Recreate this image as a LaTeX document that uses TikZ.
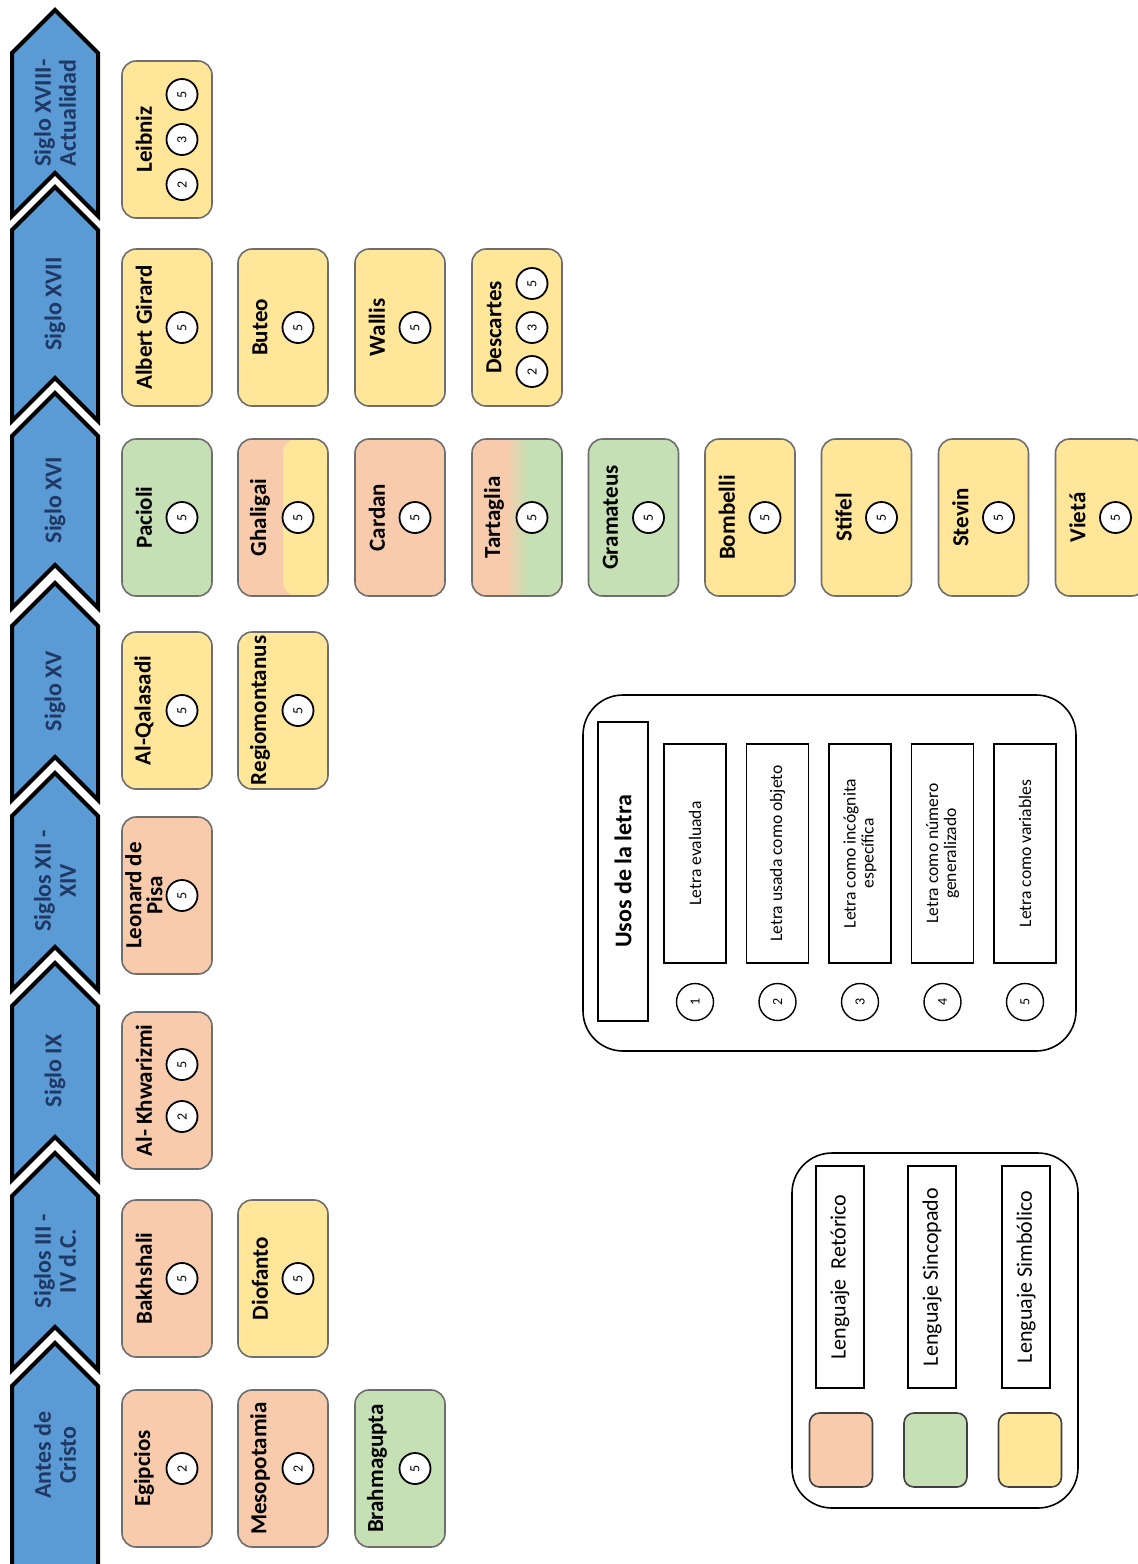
\documentclass[tikz,border=0pt]{standalone}
\usepackage{fontspec}
\setmainfont{Carlito}
\usetikzlibrary{positioning,calc}

\definecolor{chevblue}{HTML}{5B9BD5}
\definecolor{chevtext}{HTML}{1F3864}
\definecolor{retorico}{HTML}{F8CBAD}
\definecolor{sincopado}{HTML}{C5E0B4}
\definecolor{simbolico}{HTML}{FFE699}
\definecolor{boxline}{HTML}{6E6E6E}

\pgfdeclarehorizontalshading{tartshade}{100bp}{color(0bp)=(retorico); color(44bp)=(retorico); color(56bp)=(sincopado); color(100bp)=(sincopado)}

\begin{document}
\begin{tikzpicture}[x=0.5pt, y=-0.5pt,
    chev/.style={fill=chevblue, draw=black, line width=2pt},
    periodo/.style={rotate=90, inner sep=0pt, align=center, text=chevtext,
                    font=\bfseries\fontsize{12}{12.5}\selectfont},
    autor/.style={draw=boxline, line width=0.8pt, rounded corners=7pt,
                  minimum width=45pt, minimum height=78.5pt, inner sep=0pt},
    nombre/.style={rotate=90, inner sep=0pt, align=center,
                   font=\bfseries\fontsize{11.5}{10.5}\selectfont},
    num/.style={circle, draw, line width=0.9pt, fill=white, minimum size=15.5pt,
                inner sep=0pt, rotate=90, font=\fontsize{7}{7}\selectfont},
    ret/.style={fill=retorico},
    sin/.style={fill=sincopado},
    sim/.style={fill=simbolico},
    ghal/.style={fill=retorico, path picture={\fill[simbolico] (path picture bounding box.north)
                 rectangle (path picture bounding box.south east);}},
    tart/.style={shade, shading=tartshade},
    marco/.style={draw, line width=0.8pt, rounded corners=20pt, inner sep=0pt},
    uso/.style={draw, line width=0.8pt, rotate=90, inner sep=0pt, align=center},
    numl/.style={circle, draw, line width=0.7pt, minimum size=18.5pt, inner sep=0pt,
                 rotate=90, font=\fontsize{7}{7}\selectfont},
    muestra/.style={draw=black!75, line width=0.8pt, rounded corners=5pt,
                    minimum width=31.5pt, minimum height=37pt}]

  \useasboundingbox (0,0) rectangle (1138,1564);
  \clip (0,0) rectangle (1138,1564);
  \fill[white] (0,0) rectangle (1138,1564);

  % Periods (chevrons)
  \foreach \t/\b/\ly/\lab in {10/173/113/{Siglo XVIII-\\Actualidad}, 187/378/304/Siglo XVII,
      393/565/500/Siglo XVI, 583/757/691/Siglo XV, 773/947/881/{Siglos XII -\\XIV},
      963/1137/1071/Siglo IX, 1153/1327/1261/{Siglos III -\\IV d.C.}, 1343/1640/1455/{Antes de\\Cristo}}
  {
    \draw[chev] (12,\t+43) -- (55,\t) -- (98,\t+43) -- (98,\b+43) -- (55,\b) -- (12,\b+43) -- cycle;
    \node[periodo] (periodo-\t) at (55,\ly) {\lab};
  }

  % Authors
  \foreach \id/\x/\y/\c/\nom/\circs in {
      leibniz/167/139.5/sim/Leibniz/{2/45,3/0,5/-45},
      girard/167/327.5/sim/Albert Girard/{5/0},
      buteo/283/327.5/sim/Buteo/{5/0},
      wallis/400/327.5/sim/Wallis/{5/0},
      descartes/517/327.5/sim/Descartes/{2/44,3/0,5/-44},
      pacioli/167/517.5/sin/Pacioli/{5/0},
      ghaligai/283/517.5/ghal/Ghaligai/{5/0},
      cardan/400/517.5/ret/Cardan/{5/0},
      tartaglia/517/517.5/tart/Tartaglia/{5/0},
      gramateus/633.5/517.5/sin/Gramateus/{5/0},
      bombelli/750/517.5/sim/Bombelli/{5/0},
      stifel/866.5/517.5/sim/Stifel/{5/0},
      stevin/983.5/517.5/sim/Stevin/{5/0},
      vieta/1100.5/517.5/sim/Vietá/{5/0},
      qalasadi/167/710.5/sim/Al-Qalasadi/{5/0},
      regio/283/710.5/sim/Regiomontanus/{5/0},
      leonardo/167/895.5/ret/{Leonard de\\Pisa}/{5/0},
      khwarizmi/167/1090.5/ret/Al- Khwarizmi/{2/26,5/-26},
      bakhshali/167/1278.5/ret/Bakhshali/{5/0},
      diofanto/283/1278.5/sim/Diofanto/{5/0},
      egipcios/167/1468.5/ret/Egipcios/{2/0},
      mesopotamia/283/1468.5/ret/Mesopotamia/{2/0},
      brahmagupta/400/1468.5/sin/Brahmagupta/{5/0}}
  {
    \node[autor, \c] (\id) at (\x,\y) {};
    \node[nombre] (\id-nom) at ($(\id.center)+(-23,0)$) {\nom};
    \foreach \n/\dy in \circs
      \node[num] (\id-\n) at ($(\id.center)+(15,\dy)$) {\n};
  }

  % Legend: uses of the letter
  \node[marco, minimum width=246.5pt, minimum height=178pt] (usos) at (829.5,873) {};
  \node[uso, minimum width=149.5pt, minimum height=25pt,
        font=\bfseries\fontsize{12}{12}\selectfont] (usos-tit) at (623,871.5) {Usos de la letra};
  \foreach \i/\x/\txt in {1/695/Letra evaluada, 2/777.5/Letra usada como objeto,
      3/860/{Letra como incógnita\\específica}, 4/942.5/{Letra como número\\generalizado},
      5/1025/Letra como variables}
  {
    \node[uso, minimum width=109.5pt, minimum height=31pt,
          font=\fontsize{8.8}{9}\selectfont] (uso-\i) at (\x,853.5) {\txt};
    \node[numl] (usonum-\i) at (\x,1002) {\i};
  }

  % Legend: language types
  \node[marco, minimum width=143pt, minimum height=177.5pt] (lenguajes) at (935,1330.5) {};
  \foreach \k/\x/\sx/\col/\txt in {ret/840/841/retorico/{Lenguaje\ \ Retórico},
      sin/932/935.5/sincopado/Lenguaje Sincopado, sim/1026/1030/simbolico/Lenguaje Simbólico}
  {
    \node[uso, minimum width=111pt, minimum height=24pt,
          font=\fontsize{11}{11}\selectfont] (leng-\k) at (\x,1277) {\txt};
    \node[muestra, fill=\col] (muestra-\k) at (\sx,1450) {};
  }
\end{tikzpicture}
\end{document}
